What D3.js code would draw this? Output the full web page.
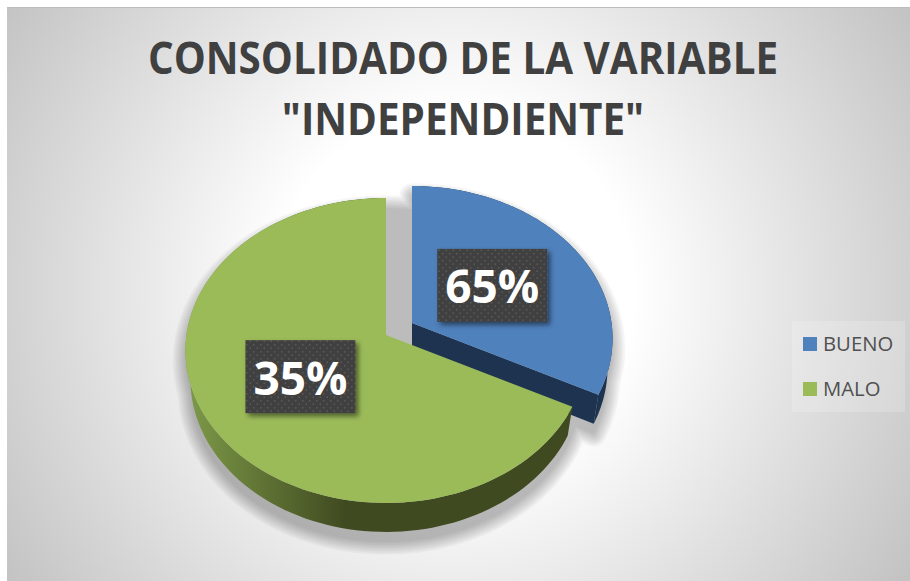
<!DOCTYPE html>
<html>
<head>
<meta charset="utf-8">
<script src="https://cdn.jsdelivr.net/npm/d3@7/dist/d3.min.js"></script>
<style>
html,body{margin:0;padding:0;background:#fff;}
svg{display:block;}
text{font-family:"Open Sans",sans-serif;}
</style>
</head>
<body>
<div id="chart"></div>
<script>
const titleLines = ['CONSOLIDADO DE LA VARIABLE', '"INDEPENDIENTE"'];
const categories = ['BUENO', 'MALO'];
const sliceShares = [32.5, 67.5];
const dataLabels = ['65%', '35%'];
const sliceColors = ['#4f81bd', '#9bbb59'];

const W = 910, H = 581;
const svg = d3.select('#chart').append('svg').attr('width', W).attr('height', H);
const defs = svg.append('defs');

// background
const bg = defs.append('radialGradient').attr('id', 'bg').attr('gradientUnits', 'userSpaceOnUse')
  .attr('cx', 455).attr('cy', 290).attr('r', 540);
bg.append('stop').attr('offset', 0.33).attr('stop-color', '#ffffff');
bg.append('stop').attr('offset', 1).attr('stop-color', '#c2c2c2');
svg.append('rect').attr('x', 7).attr('y', 8).attr('width', W - 7).attr('height', H - 8).attr('fill', 'url(#bg)');
svg.append('line').attr('x1', 7).attr('x2', W).attr('y1', 7.5).attr('y2', 7.5).attr('stroke', '#bdbdbd');

// filters & patterns
const ds = defs.append('filter').attr('id', 'boxShadow').attr('x', '-20%').attr('y', '-20%').attr('width', '140%').attr('height', '140%');
ds.append('feDropShadow').attr('dx', 3).attr('dy', 3).attr('stdDeviation', 2.5).attr('flood-color', '#000').attr('flood-opacity', 0.5);
const pat = defs.append('pattern').attr('id', 'dots').attr('patternUnits', 'userSpaceOnUse').attr('width', 7).attr('height', 7);
pat.append('rect').attr('width', 7).attr('height', 7).attr('fill', '#404040');
pat.append('circle').attr('cx', 1.75).attr('cy', 1.75).attr('r', 0.9).attr('fill', '#575757');
pat.append('circle').attr('cx', 5.25).attr('cy', 5.25).attr('r', 0.9).attr('fill', '#575757');
const rimG = defs.append('linearGradient').attr('id', 'rimGreen').attr('gradientUnits', 'userSpaceOnUse')
  .attr('x1', 186).attr('x2', 345).attr('y1', 0).attr('y2', 0);
rimG.append('stop').attr('offset', 0).attr('stop-color', '#7d9a48');
rimG.append('stop').attr('offset', 1).attr('stop-color', '#404a20');

// title
const title = svg.append('g').attr('fill', '#404040').attr('font-weight', 700).attr('font-size', 44)
  .attr('text-anchor', 'middle').attr('transform', 'translate(463,0) scale(0.918,1)');
title.selectAll('text').data(titleLines).join('text')
  .attr('x', 0).attr('y', (d, i) => 74 + i * 61).text(d => d);

// pie: d3 angles, perspective projection of a tilted disc
const pie = d3.pie().sort(null).value(d => d)(sliceShares);
const apex = [{x: 412, y: 323}, {x: 386, y: 335}];
const proj = {a: 199.5, b: 150.9, k: -0.1016, depth: 29, shrink: 0.975};
function project(t, f, c, lower) {
  const Y = -Math.cos(t) * f, X = Math.sin(t) * f, w = 1 + proj.k * Y;
  const s = lower ? proj.shrink : 1;
  return [c.x + s * proj.a * X / w, c.y + proj.b * Y / w + (lower ? proj.depth : 0)];
}
const line = d3.line();
const arcPts = (d, c, lower) => d3.range(0, 121).map(i => project(d.startAngle + (d.endAngle - d.startAngle) * i / 120, 1, c, lower));
const facePath = (d, c) => line([[c.x, c.y], ...arcPts(d, c, false)]) + 'Z';
const rimPath = (d, c) => line([...arcPts(d, c, false), ...arcPts(d, c, true).reverse()]) + 'Z';
const cutPath = (d, c) => {
  const e = project(d.endAngle, 1, c, false), el = project(d.endAngle, 1, c, true);
  return line([[c.x, c.y], e, el, [c.x, c.y + proj.depth]]) + 'Z';
};
const wholeDisc = {startAngle: 0, endAngle: 2 * Math.PI};

// soft shadow: stacked flattened outlines of widening radius
const shadowPaths = [
  facePath(wholeDisc, apex[1]),
  arcPts(wholeDisc, apex[1], true).length ? line(arcPts(wholeDisc, apex[1], true)) + 'Z' : '',
  facePath(pie[0], apex[0]),
  line(arcPts(pie[0], apex[0], true).concat([[apex[0].x, apex[0].y + proj.depth]])) + 'Z'
];
const shadowG = svg.append('g').attr('transform', 'translate(0,10)');
const shadowLayers = shadowG.selectAll('g').data(d3.range(0, 9)).join('g')
  .attr('opacity', 0.027)
  .attr('fill', '#000').attr('stroke', '#000').attr('stroke-linejoin', 'round')
  .attr('stroke-width', d => d * 3.2);
shadowLayers.selectAll('path').data(shadowPaths).join('path').attr('d', d => d);

const pieG = svg.append('g');
const rimFill = ['#1d3350', 'url(#rimGreen)'];
pie.forEach((d, i) => {
  const g = pieG.append('g');
  g.append('path').attr('d', rimPath(d, apex[i])).attr('fill', rimFill[i]);
  if (i === 0) g.append('path').attr('d', cutPath(d, apex[i])).attr('fill', rimFill[i]);
  g.append('path').attr('d', facePath(d, apex[i])).attr('fill', sliceColors[i]);
});

// data labels
const labelSize = {w: 110, h: 73};
const labelNudge = [[-1, 0], [0, 2]];
pie.forEach((d, i) => {
  const p = project((d.startAngle + d.endAngle) / 2, 0.49, apex[i], false);
  const cx = p[0] + labelNudge[i][0], cy = p[1] + labelNudge[i][1];
  const g = svg.append('g');
  g.append('rect').attr('x', cx - labelSize.w / 2).attr('y', cy - labelSize.h / 2)
    .attr('width', labelSize.w).attr('height', labelSize.h).attr('fill', 'url(#dots)').attr('filter', 'url(#boxShadow)');
  g.append('text').attr('x', cx).attr('y', cy + 18).attr('text-anchor', 'middle')
    .attr('fill', '#fff').attr('font-weight', 700).attr('font-size', 46).text(dataLabels[i]);
});

// legend
const legend = svg.append('g');
legend.append('rect').attr('x', 792).attr('y', 321).attr('width', 113).attr('height', 91).attr('fill', '#fff').attr('fill-opacity', 0.18);
const rowY = d3.scalePoint().domain(categories).range([344, 389]);
const rows = legend.selectAll('g').data(categories).join('g').attr('transform', d => `translate(803,${rowY(d)})`);
rows.append('rect').attr('y', -7).attr('width', 14).attr('height', 14).attr('fill', (d, i) => sliceColors[i]);
rows.append('text').attr('x', 20).attr('y', 7).attr('font-size', 20.3).attr('fill', '#505050').text(d => d);
</script>
</body>
</html>
